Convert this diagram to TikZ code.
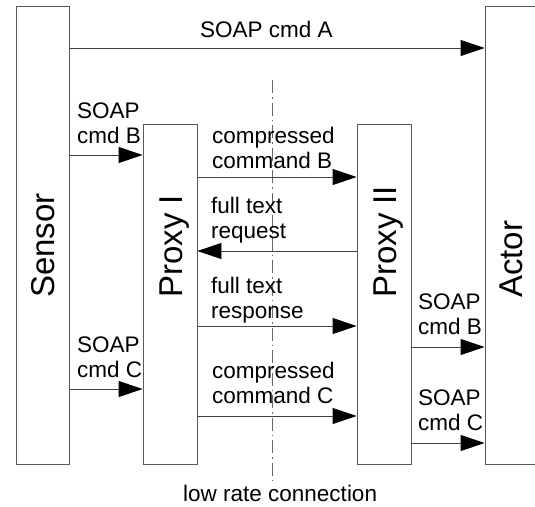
\documentclass[tikz,border=0pt]{standalone}
\usepackage{fontspec}
\setmainfont{Liberation Sans}
\usetikzlibrary{arrows.meta}
\usetikzlibrary{positioning}

\tikzset{
  unit/.style={rectangle,draw=black!65,line width=0.9pt,fill=none,inner sep=0pt},
  unitname/.style={rotate=90,anchor=base west,inner sep=0pt,font=\fontsize{33}{36}\selectfont},
  msg/.style={draw=black!75,line width=0.9pt,-{Triangle[length=24pt,width=16pt,color=black]}},
  msgtext/.style={anchor=base west,inner sep=0pt,align=left,font=\fontsize{22.5}{24.5}\selectfont}
}

\begin{document}
\begin{tikzpicture}[x=1pt,y=-1pt]
\useasboundingbox (0,0) rectangle (535,506);

\node[unit,minimum width=53pt,minimum height=458pt](sensor) at (42.5,235){};
\node[unit,minimum width=54pt,minimum height=340pt](proxyA) at (170,294){};
\node[unit,minimum width=54pt,minimum height=340pt](proxyB) at (384,294){};
\node[unit,minimum width=60pt,minimum height=458pt](actor) at (515,235){};

\node[unitname](sensorname) at (54,298){Sensor};
\node[unitname](proxyAname) at (182,298){Proxy I};
\node[unitname](proxyBname) at (396,298){Proxy II};
\node[unitname](actorname) at (522,298){Actor};

% the slow link between the two proxies
\coordinate (linktop) at (272,80);
\coordinate (linkbot) at (272,482);
\draw[black!60,line width=0.8pt,dash pattern=on 13pt off 4pt on 1.5pt off 4pt] (linktop) -- (linkbot);
\node[msgtext](linkname) at (183,501){low rate connection};

% two-line labels sit on the baseline of their last line
\draw[msg] (sensor.east |- 0,48) -- (actor.west |- 0,48);
\node[msgtext](cmdA) at (200,37){SOAP cmd A};

\draw[msg] (sensor.east |- 0,155) -- (proxyA.west |- 0,155);
\node[msgtext](cmdBin) at (77,143){SOAP\\cmd B};

\draw[msg] (proxyA.east |- 0,177) -- (proxyB.west |- 0,177);
\node[msgtext](zipB) at (212,168){compressed\\command B};

\draw[msg] (proxyB.west |- 0,251) -- (proxyA.east |- 0,251);
\node[msgtext](request) at (211,238){full text\\request};

\draw[msg] (proxyA.east |- 0,326) -- (proxyB.west |- 0,326);
\node[msgtext](response) at (211,318){full text\\response};

\draw[msg] (sensor.east |- 0,389) -- (proxyA.west |- 0,389);
\node[msgtext](cmdCin) at (77,377){SOAP\\cmd C};

\draw[msg] (proxyA.east |- 0,416) -- (proxyB.west |- 0,416);
\node[msgtext](zipC) at (212,403){compressed\\command C};

\draw[msg] (proxyB.east |- 0,347) -- (actor.west |- 0,347);
\node[msgtext](cmdBout) at (418,334){SOAP\\cmd B};

\draw[msg] (proxyB.east |- 0,443) -- (actor.west |- 0,443);
\node[msgtext](cmdCout) at (418,430){SOAP\\cmd C};
\end{tikzpicture}
\end{document}
